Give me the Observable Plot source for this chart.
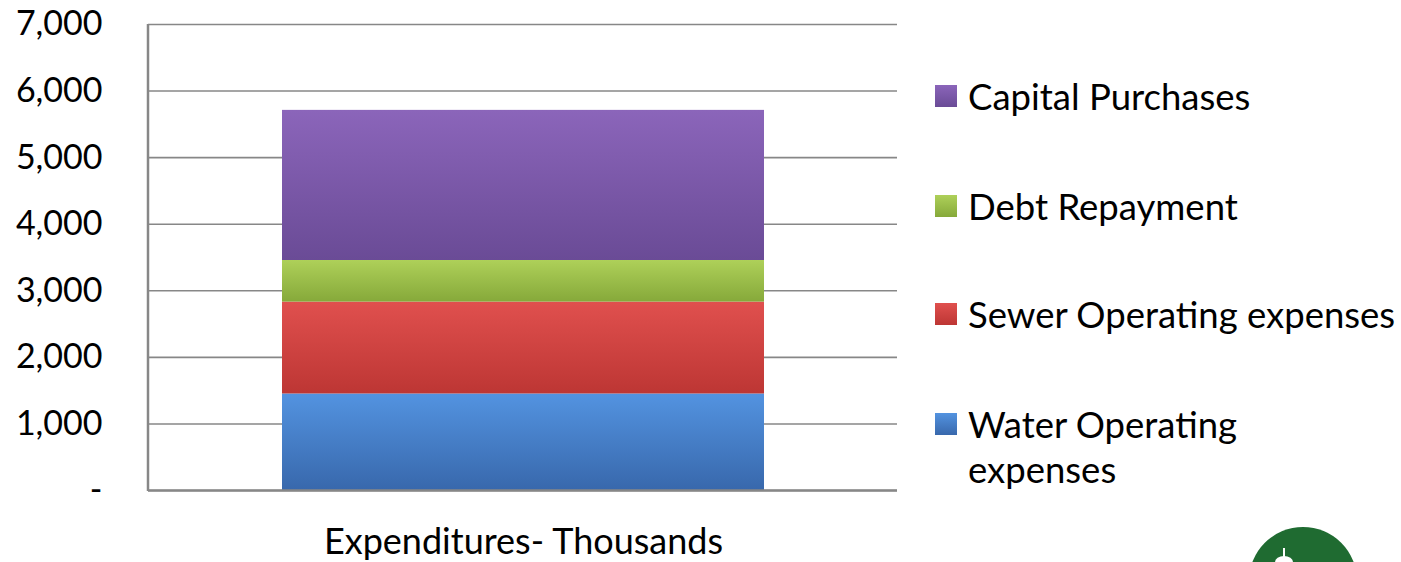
<!DOCTYPE html>
<html><head><meta charset="utf-8">
<script src="https://cdn.jsdelivr.net/npm/d3@7"></script>
<script src="https://cdn.jsdelivr.net/npm/@observablehq/plot@0.6"></script>
<style>
body{margin:0;background:#fff;}
#wrap{position:relative;width:1401px;height:562px;overflow:hidden;font-family:Lato,"Open Sans",sans-serif;color:#000;}
#legend{position:absolute;left:935px;top:0;width:466px;}
.item{position:absolute;left:0;display:flex;align-items:flex-start;width:466px;}
.sw{width:22px;height:22px;margin-top:11px;margin-right:11px;flex:none;}
.lab{font-size:36.5px;line-height:45px;white-space:pre;}
#logo{position:absolute;left:1249px;top:527px;width:108px;height:108px;border-radius:50%;background:#1f6b31;}
#spire{position:absolute;left:1283px;top:548px;width:2px;height:14px;background:#fff;}
#spireb{position:absolute;left:1275px;top:556px;width:18px;height:12px;border-radius:50% 50% 0 0;background:#fff;}
</style></head>
<body><div id="wrap"></div>
<script>
const category = "Expenditures- Thousands";
const series = ["Water Operating expenses", "Sewer Operating expenses", "Debt Repayment", "Capital Purchases"];
const legendLabels = ["Water Operating\nexpenses", "Sewer Operating expenses", "Debt Repayment", "Capital Purchases"];
const values = [1450, 1380, 625, 2255];
const yTicks = [0, 1000, 2000, 3000, 4000, 5000, 6000, 7000];
const colorTop = ["#5393e0", "#e0504e", "#aed059", "#8b65ba"];
const colorBottom = ["#3868ac", "#bd3634", "#86a93a", "#6a4b96"];
const gradIds = series.map((s, i) => "grad" + i);

const data = series.map((s, i) => ({category, series: s, value: values[i]}));

const defs = () => {
  const d = d3.create("svg:defs");
  gradIds.forEach((id, i) => {
    const g = d.append("linearGradient").attr("id", id).attr("x1", 0).attr("x2", 0).attr("y1", 0).attr("y2", 1);
    g.append("stop").attr("offset", "0%").attr("stop-color", colorTop[i]);
    g.append("stop").attr("offset", "100%").attr("stop-color", colorBottom[i]);
  });
  return d.node();
};

const plot = Plot.plot({
  width: 1401,
  height: 562,
  marginLeft: 148,
  marginRight: 504,
  marginTop: 24,
  marginBottom: 72,
  style: {fontFamily: "Lato, 'Open Sans', sans-serif", fontSize: "34px", color: "#000", background: "#fff"},
  x: {domain: [category], padding: 0.217, label: null, tickSize: 0, tickPadding: 38},
  y: {domain: [0, 7000], ticks: yTicks, tickFormat: d => d === 0 ? "-" : d3.format(",")(d), label: null, tickSize: 0, tickPadding: 46},
  color: {domain: series, range: gradIds.map(id => `url(#${id})`)},
  marks: [
    defs,
    Plot.gridY(yTicks, {stroke: "#878787", strokeOpacity: 1, strokeWidth: 1.6}),
    Plot.barY(data, Plot.stackY({x: "category", y: "value", fill: "series", order: series})),
    Plot.ruleY([0], {stroke: "#878787", strokeWidth: 2.5}),
    () => {
      const l = d3.create("svg:line").attr("x1", 148).attr("x2", 148).attr("y1", 24).attr("y2", 491)
        .attr("stroke", "#878787").attr("stroke-width", 2.5);
      return l.node();
    }
  ]
});

const wrap = document.getElementById("wrap");
wrap.appendChild(plot);
plot.querySelectorAll("g[aria-label='x-axis tick label'] text").forEach(t => t.style.fontSize = "36px");

// Legend (top to bottom reverses the stack)
const legend = document.createElement("div");
legend.id = "legend";
wrap.appendChild(legend);
const rowCenters = [96, 206, 314, 424];
const order = legendLabels.slice().reverse();
const colorsRev = colorTop.map((c, i) => [c, colorBottom[i]]).reverse();
order.forEach((s, i) => {
  const it = document.createElement("div");
  it.className = "item";
  it.style.top = (rowCenters[i] - 22) + "px";
  const sw = document.createElement("div");
  sw.className = "sw";
  sw.style.background = `linear-gradient(${colorsRev[i][0]}, ${colorsRev[i][1]})`;
  const lab = document.createElement("div");
  lab.className = "lab";
  lab.textContent = s;
  it.appendChild(sw); it.appendChild(lab);
  legend.appendChild(it);
});

["logo", "spire", "spireb"].forEach(id => {
  const e = document.createElement("div");
  e.id = id;
  wrap.appendChild(e);
});
</script></body></html>
